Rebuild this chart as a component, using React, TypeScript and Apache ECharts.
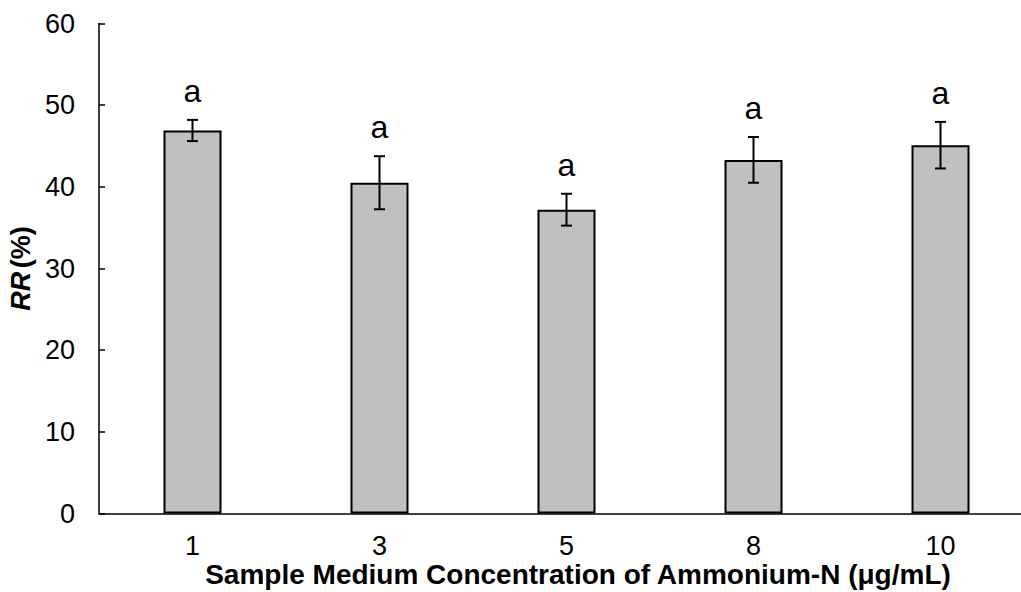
import React, { useEffect, useRef } from "react";
import * as echarts from "echarts";

const categories = ["1", "3", "5", "8", "10"];
const means = [46.9, 40.5, 37.2, 43.3, 45.1];
const errors = [1.3, 3.25, 1.95, 2.8, 2.85];
const letters = ["a", "a", "a", "a", "a"];
const yTicks = { min: 0, max: 60, interval: 10 };
const xTitle = "Sample Medium Concentration of Ammonium-N (\u03bcg/mL)";

const FONT = "'Liberation Sans', Arial, Helvetica, sans-serif";

export default function App() {
  const ref = useRef<HTMLDivElement>(null);
  useEffect(() => {
    if (!ref.current) return;
    const chart = echarts.init(ref.current, undefined, { renderer: "svg" });
    const errData = means.map((m, i) => [i, m, errors[i], letters[i]]);
    chart.setOption({
      animation: false,
      backgroundColor: "#ffffff",
      grid: { left: 99, top: 23.5, right: -13, bottom: 78.5, containLabel: false, outerBoundsMode: "none" },
      graphic: [
        {
          type: "text",
          x: 578,
          y: 574,
          style: {
            text: xTitle,
            fontSize: 28,
            fontWeight: "bold",
            fontFamily: FONT,
            fill: "#000",
            align: "center",
            verticalAlign: "middle",
          },
        },
      ],
      xAxis: {
        type: "category",
        data: categories,
        axisLine: { lineStyle: { color: "#000", width: 1.5 } },
        axisTick: { show: false },
        axisLabel: { color: "#000", fontSize: 27, fontFamily: FONT, margin: 19 },
      },
      yAxis: {
        type: "value",
        min: yTicks.min,
        max: yTicks.max,
        interval: yTicks.interval,
        splitLine: { show: false },
        axisLine: { show: true, lineStyle: { color: "#000", width: 1.5 } },
        axisTick: { show: true, inside: true, length: 6, lineStyle: { color: "#000", width: 1.5 } },
        axisLabel: { color: "#000", fontSize: 27, fontFamily: FONT, margin: 24 },
        name: "{i|RR} {b|(%)}",
        nameLocation: "middle",
        nameGap: 64,
        nameRotate: 90,
        nameTextStyle: {
          color: "#000",
          fontFamily: FONT,
          rich: {
            i: { fontSize: 27, fontWeight: "bold", fontStyle: "italic", fontFamily: FONT, color: "#000" },
            b: { fontSize: 27, fontWeight: "bold", fontFamily: FONT, color: "#000" },
          },
        },
      },
      series: [
        {
          type: "bar",
          data: means,
          barWidth: 58,
          itemStyle: { color: "#c0c0c0", borderColor: "#000", borderWidth: 2 },
        },
        {
          type: "custom",
          data: errData,
          z: 10,
          renderItem: (params: any, api: any) => {
            const i = api.value(0);
            const m = api.value(1);
            const e = api.value(2);
            const top = api.coord([i, m + e]);
            const bot = api.coord([i, m - e]);
            const x = top[0];
            const cap = 5.5;
            const st = { stroke: "#000", lineWidth: 2 };
            return {
              type: "group",
              children: [
                { type: "line", shape: { x1: x, y1: top[1], x2: x, y2: bot[1] }, style: st },
                { type: "line", shape: { x1: x - cap, y1: top[1], x2: x + cap, y2: top[1] }, style: st },
                { type: "line", shape: { x1: x - cap, y1: bot[1], x2: x + cap, y2: bot[1] }, style: st },
                {
                  type: "text",
                  x: x,
                  y: top[1] - 29,
                  style: {
                    text: letters[params.dataIndex],
                    fontSize: 32,
                    fontFamily: FONT,
                    fill: "#000",
                    align: "center",
                    verticalAlign: "middle",
                  },
                },
              ],
            };
          },
        },
      ],
    });
    return () => chart.dispose();
  }, []);
  return (
    <div
      ref={ref}
      style={{ position: "absolute", left: 0, top: 0, width: 1021, height: 592, overflow: "hidden" }}
    />
  );
}
